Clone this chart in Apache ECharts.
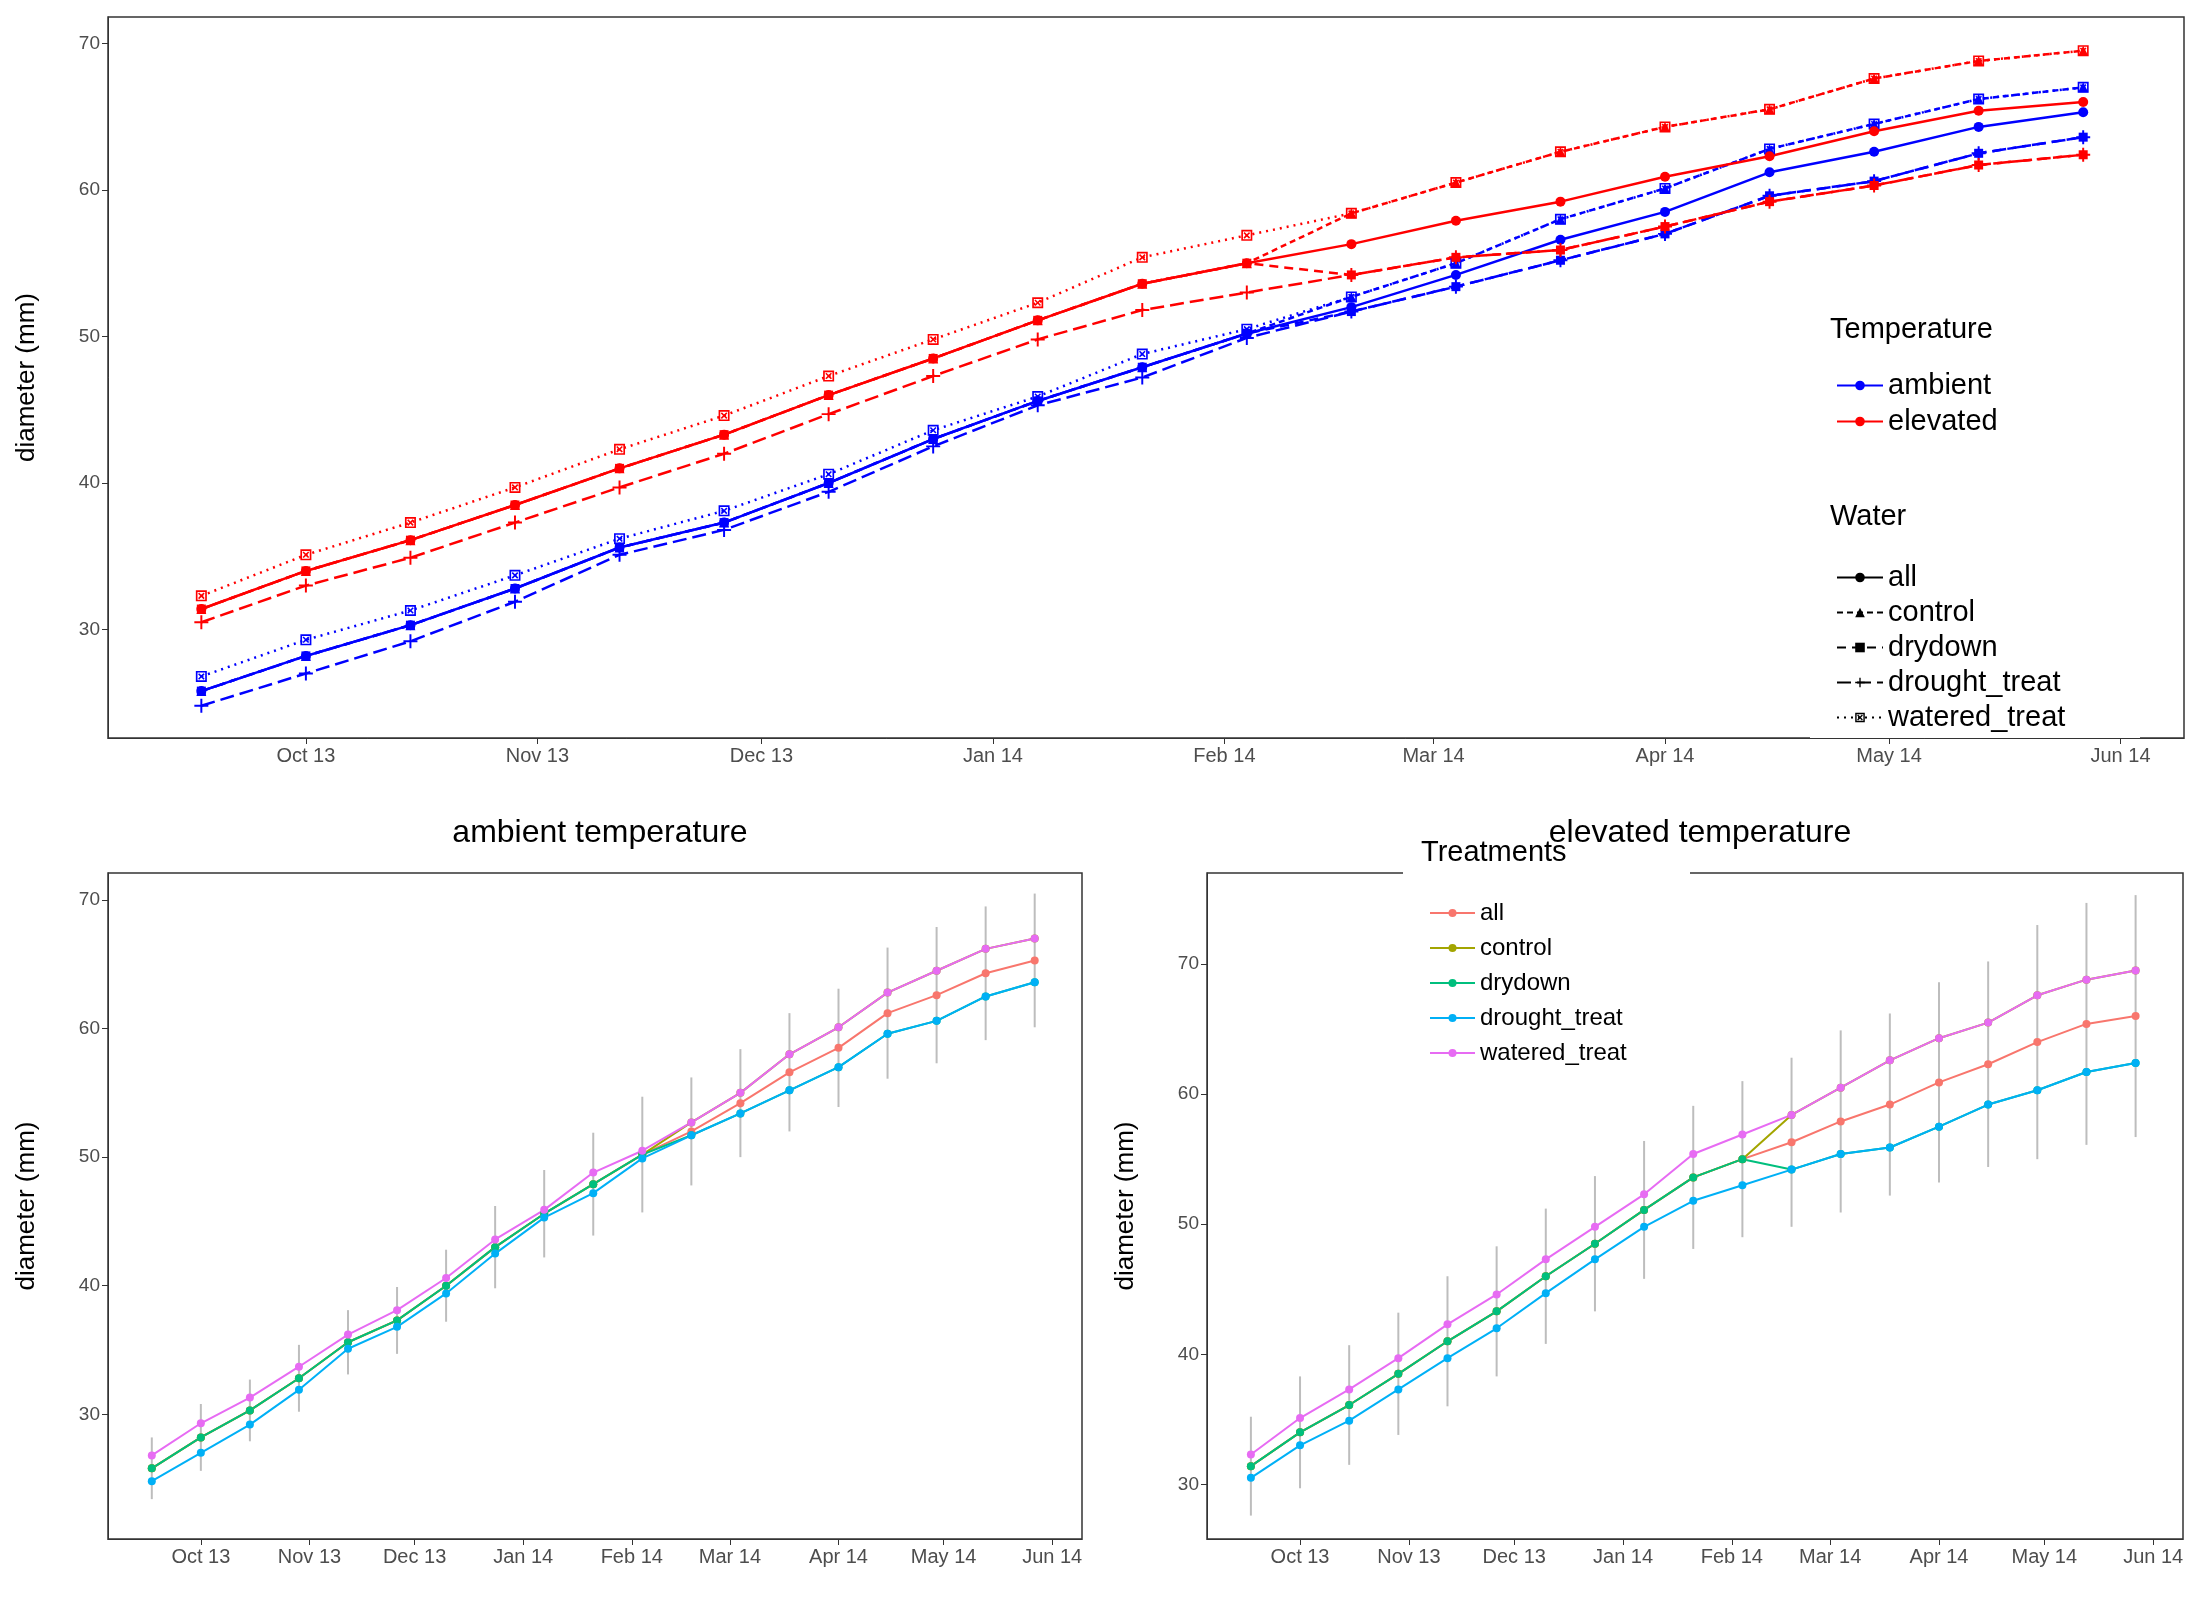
<!DOCTYPE html>
<html><head><meta charset="utf-8">
<script src="https://cdn.jsdelivr.net/npm/echarts@6/dist/echarts.min.js"></script>
<style>html,body{margin:0;padding:0;background:#fff}#c{width:2200px;height:1600px}</style>
</head><body><div id="c"></div>
<script>
const dates = ['2013-09-17','2013-10-01','2013-10-15','2013-10-29','2013-11-12','2013-11-26','2013-12-10','2013-12-24','2014-01-07','2014-01-21','2014-02-04','2014-02-18','2014-03-04','2014-03-18','2014-04-01','2014-04-15','2014-04-29','2014-05-13','2014-05-27'];
const monthTicks = ['2013-10-01','2013-11-01','2013-12-01','2014-01-01','2014-02-01','2014-03-01','2014-04-01','2014-05-01','2014-06-01'];
const yTicks = [30,40,50,60,70];

const ambAll      = [25.8,28.2,30.3,32.8,35.6,37.3,40.0,43.0,45.6,47.9,50.2,52.0,54.2,56.6,58.5,61.2,62.6,64.3,65.3];
const ambWatered  = [26.8,29.3,31.3,33.7,36.2,38.1,40.6,43.6,45.9,48.8,50.5,52.7,55.0,58.0,60.1,62.8,64.5,66.2,67.0];
const ambDrought  = [24.8,27.0,29.2,31.9,35.1,36.8,39.4,42.5,45.3,47.2,49.9,51.7,53.4,55.2,57.0,59.6,60.6,62.5,63.6];
const ambControl  = [25.8,28.2,30.3,32.8,35.6,37.3,40.0,43.0,45.6,47.9,50.2,52.7,55.0,58.0,60.1,62.8,64.5,66.2,67.0];
const ambDrydown  = [25.8,28.2,30.3,32.8,35.6,37.3,40.0,43.0,45.6,47.9,50.2,51.7,53.4,55.2,57.0,59.6,60.6,62.5,63.6];
const ambErr      = [2.4,2.6,2.4,2.6,2.5,2.6,2.8,3.2,3.4,4.0,4.5,4.2,4.2,4.6,4.6,5.1,5.3,5.2,5.2];

const elvAll      = [31.4,34.0,36.1,38.5,41.0,43.3,46.0,48.5,51.1,53.6,55.0,56.3,57.9,59.2,60.9,62.3,64.0,65.4,66.0];
const elvWatered  = [32.3,35.1,37.3,39.7,42.3,44.6,47.3,49.8,52.3,55.4,56.9,58.4,60.5,62.6,64.3,65.5,67.6,68.8,69.5];
const elvDrought  = [30.5,33.0,34.9,37.3,39.7,42.0,44.7,47.3,49.8,51.8,53.0,54.2,55.4,55.9,57.5,59.2,60.3,61.7,62.4];
const elvControl  = [31.4,34.0,36.1,38.5,41.0,43.3,46.0,48.5,51.1,53.6,55.0,58.4,60.5,62.6,64.3,65.5,67.6,68.8,69.5];
const elvDrydown  = [31.4,34.0,36.1,38.5,41.0,43.3,46.0,48.5,51.1,53.6,55.0,54.2,55.4,55.9,57.5,59.2,60.3,61.7,62.4];
const elvErr      = [3.8,4.3,4.6,4.7,5.0,5.0,5.2,5.2,5.3,5.5,6.0,6.5,7.0,7.0,7.7,7.9,9.0,9.3,9.3];

const treatNames = ['all','control','drydown','drought_treat','watered_treat'];
const treatColors = ['#F8766D','#A3A500','#00BF7D','#00B0F6','#E76BF3'];

function ts(s){const p=s.split('-').map(Number);return Date.UTC(p[0],p[1]-1,p[2]);}
const X = dates.map(ts);
const MON=['Jan','Feb','Mar','Apr','May','Jun','Jul','Aug','Sep','Oct','Nov','Dec'];
const xMin = Date.UTC(2013,8,4,12), xMax = Date.UTC(2014,5,9,12);
const pairs = a => a.map((v,i)=>[X[i],v]);
const mt = monthTicks.map(ts);

function xAxis(gi, fs){
  return {type:'value', gridIndex:gi, min:xMin, max:xMax, splitLine:{show:false},
    axisLine:{lineStyle:{color:'#333'}}, axisTick:{customValues:mt, length:6, lineStyle:{color:'#333'}},
    axisLabel:{customValues:mt, fontSize:fs, color:'#4D4D4D', fontFamily:'Liberation Sans',
      formatter:v=>{const d=new Date(v);return MON[d.getUTCMonth()]+' '+String(d.getUTCFullYear()%100).padStart(2,'0');}}};
}
function yAxis(gi,min,max,gap){
  return {type:'value', gridIndex:gi, min:min, max:max, splitLine:{show:false},
    name:'diameter (mm)', nameLocation:'middle', nameGap:gap, nameTextStyle:{fontSize:26, color:'#000', fontFamily:'Liberation Sans'},
    axisLine:{show:true, lineStyle:{color:'#333'}}, axisTick:{show:true, customValues:yTicks, length:6, lineStyle:{color:'#333'}},
    axisLabel:{customValues:yTicks, fontSize:19, color:'#4D4D4D', fontFamily:'Liberation Sans'}};
}

const series = [];
const sqX = 'path://M0,0H10V10H0Z M1.5,1.5V8.5H8.5V1.5Z M2,3L3,2L5,4L7,2L8,3L6,5L8,7L7,8L5,6L3,8L2,7L4,5Z';
const plus = 'path://M4.3,0H5.7V4.3H10V5.7H5.7V10H4.3V5.7H0V4.3H4.3Z';
const topSpec = [
  {n:'all', sym:'circle', type:'solid', size:10},
  {n:'control', sym:'triangle', type:[6,4], size:10},
  {n:'drydown', sym:'rect', type:[9,6], size:9},
  {n:'drought_treat', sym:plus, type:[14,6], size:14},
  {n:'watered_treat', sym:sqX, type:[2,5], size:11}
];
const topData = {ambient:[ambAll,ambControl,ambDrydown,ambDrought,ambWatered], elevated:[elvAll,elvControl,elvDrydown,elvDrought,elvWatered]};
[['ambient','#0000FF'],['elevated','#FF0000']].forEach(([t,c])=>{
  topSpec.forEach((s,i)=>{
    series.push({type:'line', name:t+' '+s.n, xAxisIndex:0, yAxisIndex:0, data:pairs(topData[t][i]),
      symbol:s.sym, symbolSize:s.size, showSymbol:true, color:c, lineStyle:{color:c, width:2.5, type:s.type}, itemStyle:{color:c}, z:3});
  });
});
series.push({type:'line', name:'T:ambient', data:[], xAxisIndex:0, yAxisIndex:0, symbol:'circle', color:'#0000FF', lineStyle:{width:2.5}});
series.push({type:'line', name:'T:elevated', data:[], xAxisIndex:0, yAxisIndex:0, symbol:'circle', color:'#FF0000', lineStyle:{width:2.5}});
topSpec.forEach(s=>series.push({type:'line', name:'W:'+s.n, data:[], xAxisIndex:0, yAxisIndex:0, symbol:s.sym, color:'#000', lineStyle:{width:2.5, type:s.type}}));

function errSeries(gi, center, err){
  return {type:'custom', xAxisIndex:gi, yAxisIndex:gi, z:1, silent:true,
    data:center.map((v,i)=>[X[i], v-err[i], v+err[i]]),
    renderItem:(p,api)=>{const a=api.coord([api.value(0),api.value(1)]), b=api.coord([api.value(0),api.value(2)]);
      return {type:'line', shape:{x1:a[0],y1:a[1],x2:b[0],y2:b[1]}, style:{stroke:'#BDBDBD', lineWidth:2}};}};
}
series.push(errSeries(1, ambAll, ambErr));
series.push(errSeries(2, elvAll, elvErr));
const botData = [[ambAll,ambControl,ambDrydown,ambDrought,ambWatered],[elvAll,elvControl,elvDrydown,elvDrought,elvWatered]];
[1,2].forEach(gi=>{
  treatNames.forEach((n,i)=>{
    series.push({type:'line', name:'B:'+n, xAxisIndex:gi, yAxisIndex:gi, data:pairs(botData[gi-1][i]),
      symbol:'circle', symbolSize:8, color:treatColors[i], lineStyle:{width:2}, z:3});
  });
});

const strip = n => n.replace(/^[TWB]:/,'');
const option = {
  animation:false, backgroundColor:'#fff',
  grid:[
    {left:108, right:16, top:17, bottom:862, show:true, borderColor:'#333', borderWidth:1.5},
    {left:108, width:974, top:873, bottom:61, show:true, borderColor:'#333', borderWidth:1.5},
    {left:1207, right:17, top:873, bottom:61, show:true, borderColor:'#333', borderWidth:1.5}
  ],
  xAxis:[xAxis(0,20), xAxis(1,20), xAxis(2,20)],
  yAxis:[yAxis(0,22.6,71.8,68), yAxis(1,20.3,72.1,68), yAxis(2,25.8,77,68)],
  title:[
    {text:'ambient temperature', left:595, top:812, textAlign:'center', textStyle:{fontSize:32, fontWeight:'normal', fontFamily:'Liberation Sans', color:'#000'}},
    {text:'elevated temperature', left:1695, top:812, textAlign:'center', textStyle:{fontSize:32, fontWeight:'normal', fontFamily:'Liberation Sans', color:'#000'}, z:10}
  ],
  graphic:[
    {type:'rect', shape:{x:1810, y:302, width:330, height:436}, style:{fill:'#fff'}, z:5},
    {type:'text', left:1830, top:315, style:{text:'Temperature', fontSize:29, fill:'#000', fontFamily:'Liberation Sans'}, z:6},
    {type:'text', left:1830, top:502, style:{text:'Water', fontSize:29, fill:'#000', fontFamily:'Liberation Sans'}, z:6},
    {type:'rect', shape:{x:1403, y:839, width:287, height:227}, style:{fill:'#fff'}, z:5},
    {type:'text', left:1421, top:838, style:{text:'Treatments', fontSize:29, fill:'#000', fontFamily:'Liberation Sans'}, z:7}
  ],
  legend:[
    {data:['T:ambient','T:elevated'], orient:'vertical', left:1831, top:366, itemWidth:46, itemHeight:12, itemGap:7, z:6,
      formatter:strip, textStyle:{fontSize:29, color:'#000', fontFamily:'Liberation Sans'}, selectedMode:false},
    {data:treatNames.map(n=>'W:'+n), orient:'vertical', left:1831, top:558, itemWidth:46, itemHeight:12, itemGap:6, z:6,
      formatter:strip, textStyle:{fontSize:29, color:'#000', fontFamily:'Liberation Sans'}, selectedMode:false},
    {data:treatNames.map(n=>'B:'+n), orient:'vertical', left:1424, top:896, itemWidth:45, itemHeight:10, itemGap:11, z:6,
      formatter:strip, textStyle:{fontSize:24, color:'#000', fontFamily:'Liberation Sans'}, selectedMode:false}
  ],
  series:series
};
echarts.init(document.getElementById('c')).setOption(option);
</script></body></html>
